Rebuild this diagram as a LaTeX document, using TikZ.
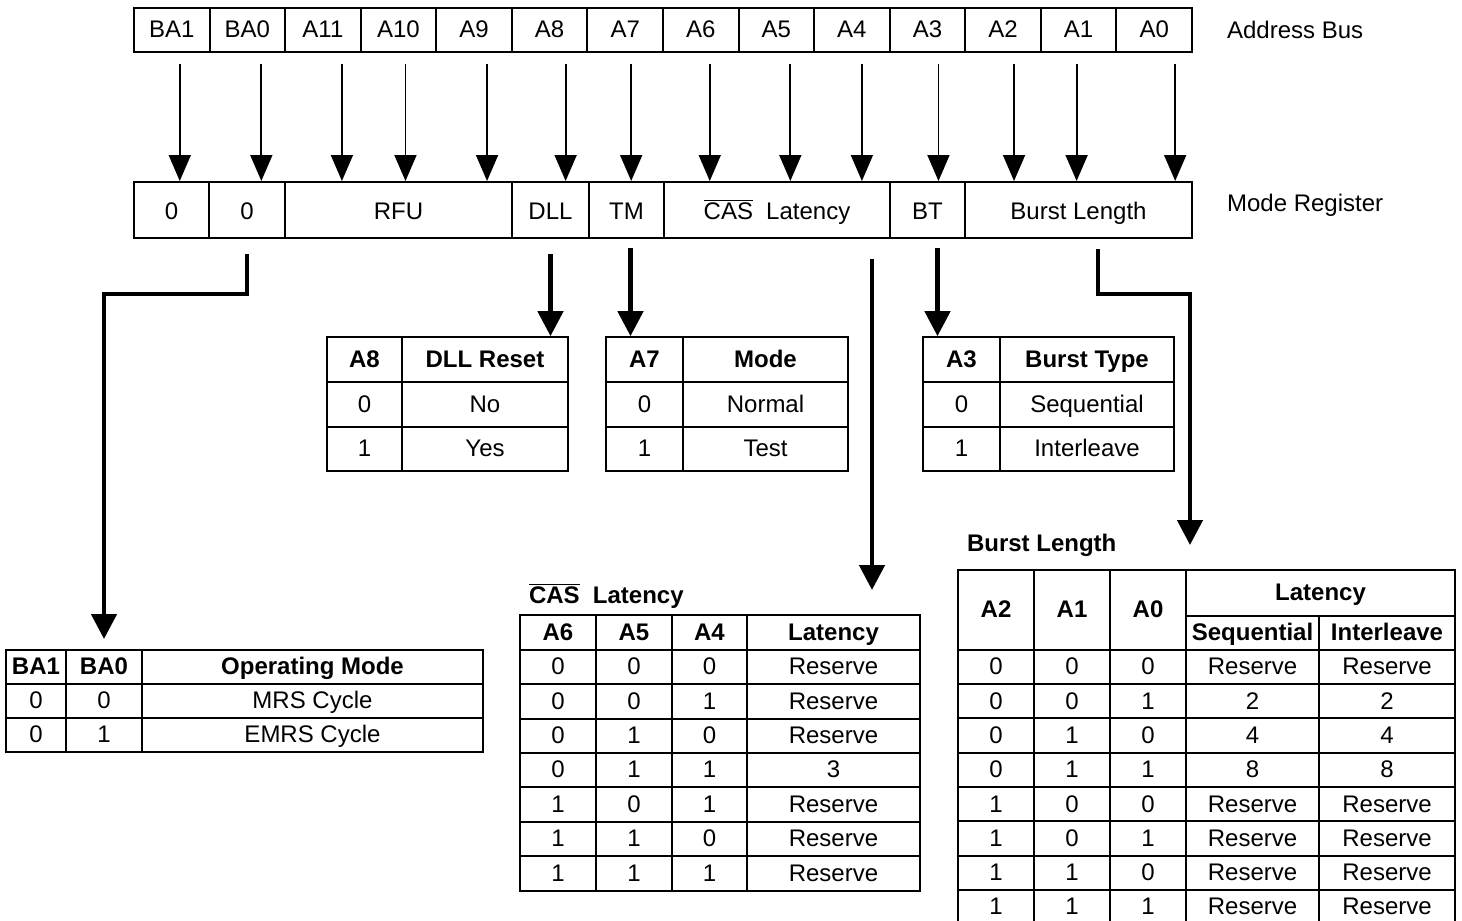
\documentclass[tikz,border=0pt]{standalone}
\usepackage{fontspec}
\setmainfont{Liberation Sans}
\usetikzlibrary{arrows.meta,positioning}

\begin{document}
\begin{tikzpicture}[x=0.5pt, y=-0.5pt,
    cell/.style={draw, line width=1pt, inner sep=0pt, text height=10pt, text depth=2.2pt, font=\fontsize{12}{14}\selectfont},
    hcell/.style={cell, font=\fontsize{12}{14}\selectfont\bfseries},
    regcell/.style={cell, minimum height=28pt, text height=12pt},
    busarrow/.style={-{Triangle[length=13pt,width=11pt]}, line width=0.9pt},
    fieldarrow/.style={-{Triangle[length=12.5pt,width=12.5pt]}, line width=2.3pt},
    tag/.style={anchor=west, font=\fontsize{12}{14}\selectfont}
]
\useasboundingbox (0,0) rectangle (1462,921);

% address bus
\foreach \t [count=\i] in {BA1,BA0,A11,A10,A9,A8,A7,A6,A5,A4,A3,A2,A1,A0}
  \node[cell, minimum width=37.8pt, minimum height=22pt] (ab\i) at ({96.2+75.57*\i}, 30) {\t};
\node[tag] (ablabel) at (1220,30) {Address Bus};

% mode register
\node[regcell, minimum width=37.5pt] (mra) at (171.5,210) {0};
\node[regcell, minimum width=38pt] (mrb) at (247,210) {0};
\node[regcell, minimum width=113.5pt] (rfu) at (398.5,210) {RFU};
\node[regcell, minimum width=38.5pt] (dll) at (550.5,210) {DLL};
\node[regcell, minimum width=37.5pt] (tm) at (626.5,210) {TM};
\node[regcell, minimum width=113pt] (cas) at (777,210) {$\overline{\mbox{CAS}}$\hspace{0.55em}Latency};
\node[regcell, minimum width=37.5pt] (bt) at (927.5,210) {BT};
\node[regcell, minimum width=113.5pt] (bl) at (1078.5,210) {Burst Length};
\node[tag] (mrlabel) at (1220,205) {Mode Register};

\foreach \i/\d in {1/8,2/14,3/19,4/7,5/13,6/16,7/6,8/9,9/14,10/10,11/11,12/11,13/-2,14/21}
  \draw[busarrow] ([xshift=\d*0.5pt, yshift=-5.5pt]ab\i.south) -- ([xshift=\d*0.5pt]ab\i.south |- mra.north);

% DLL reset table
\node[hcell, minimum width=37.5pt, minimum height=22.3pt] (dllh1) at (364.5,359.5) {A8};
\node[hcell, minimum width=83pt, minimum height=22.3pt] (dllh2) at (485,359.5) {DLL Reset};
\foreach \a/\b [count=\r] in {0/No,1/Yes} {
  \node[cell, minimum width=37.5pt, minimum height=22.3pt] (dlla\r) at (364.5, {359.5+44.7*\r}) {\a};
  \node[cell, minimum width=83pt, minimum height=22.3pt] (dllb\r) at (485, {359.5+44.7*\r}) {\b};
}

% test mode table
\node[hcell, minimum width=38.5pt, minimum height=22.3pt] (tmh1) at (644.5,359.5) {A7};
\node[hcell, minimum width=82.5pt, minimum height=22.3pt] (tmh2) at (765.5,359.5) {Mode};
\foreach \a/\b [count=\r] in {0/Normal,1/Test} {
  \node[cell, minimum width=38.5pt, minimum height=22.3pt] (tma\r) at (644.5, {359.5+44.7*\r}) {\a};
  \node[cell, minimum width=82.5pt, minimum height=22.3pt] (tmb\r) at (765.5, {359.5+44.7*\r}) {\b};
}

% burst type table
\node[hcell, minimum width=38.5pt, minimum height=22.3pt] (bth1) at (961.5,359.5) {A3};
\node[hcell, minimum width=87pt, minimum height=22.3pt] (bth2) at (1087,359.5) {Burst Type};
\foreach \a/\b [count=\r] in {0/Sequential,1/Interleave} {
  \node[cell, minimum width=38.5pt, minimum height=22.3pt] (bta\r) at (961.5, {359.5+44.7*\r}) {\a};
  \node[cell, minimum width=87pt, minimum height=22.3pt] (btb\r) at (1087, {359.5+44.7*\r}) {\b};
}

% operating mode table
\node[hcell, minimum width=30pt, minimum height=17pt] (oph1) at (36,667) {BA1};
\node[hcell, minimum width=38pt, minimum height=17pt] (oph2) at (104,667) {BA0};
\node[hcell, minimum width=170.5pt, minimum height=17pt] (oph3) at (312.5,667) {Operating Mode};
\foreach \a/\b/\c [count=\r] in {0/0/MRS Cycle,0/1/EMRS Cycle} {
  \node[cell, minimum width=30pt, minimum height=17pt] (opa\r) at (36, {667+34*\r}) {\a};
  \node[cell, minimum width=38pt, minimum height=17pt] (opb\r) at (104, {667+34*\r}) {\b};
  \node[cell, minimum width=170.5pt, minimum height=17pt] (opc\r) at (312.5, {667+34*\r}) {\c};
}

% CAS latency table
\node[tag, font=\fontsize{12}{14}\selectfont\bfseries] (castitle) at (522,596) {$\overline{\mbox{CAS}}$\hspace{0.55em}Latency};
\node[hcell, minimum width=38pt, minimum height=17.5pt] (cash1) at (558,632.5) {A6};
\node[hcell, minimum width=38pt, minimum height=17.5pt] (cash2) at (634,632.5) {A5};
\node[hcell, minimum width=37.5pt, minimum height=17.5pt] (cash3) at (709.5,632.5) {A4};
\node[hcell, minimum width=86.5pt, minimum height=17.5pt] (cash4) at (833.5,632.5) {Latency};
\foreach \p/\q/\s/\v [count=\r] in {0/0/0/Reserve,0/0/1/Reserve,0/1/0/Reserve,0/1/1/3,1/0/1/Reserve,1/1/0/Reserve,1/1/1/Reserve} {
  \node[cell, minimum width=38pt, minimum height=17.2pt] (casa\r) at (558, {632.5+34.4*\r}) {\p};
  \node[cell, minimum width=38pt, minimum height=17.2pt] (casb\r) at (634, {632.5+34.4*\r}) {\q};
  \node[cell, minimum width=37.5pt, minimum height=17.2pt] (casc\r) at (709.5, {632.5+34.4*\r}) {\s};
  \node[cell, minimum width=86.5pt, minimum height=17.2pt] (casd\r) at (833.5, {632.5+34.4*\r}) {\v};
}

% burst length table
\node[tag, font=\fontsize{12}{14}\selectfont\bfseries] (bltitle) at (960,545) {Burst Length};
\node[hcell, minimum width=38pt, minimum height=40pt] (blh1) at (996,610) {A2};
\node[hcell, minimum width=38pt, minimum height=40pt] (blh2) at (1072,610) {A1};
\node[hcell, minimum width=38pt, minimum height=40pt] (blh3) at (1148,610) {A0};
\node[hcell, minimum width=134.5pt, minimum height=23pt] (blh4) at (1320.5,593) {Latency};
\node[hcell, minimum width=66.5pt, minimum height=17pt] (blseq) at (1252.5,633) {Sequential};
\node[hcell, minimum width=68pt, minimum height=17pt] (blint) at (1387,633) {Interleave};
\foreach \p/\q/\s/\u/\v [count=\r] in {0/0/0/Reserve/Reserve,0/0/1/2/2,0/1/0/4/4,0/1/1/8/8,1/0/0/Reserve/Reserve,1/0/1/Reserve/Reserve,1/1/0/Reserve/Reserve,1/1/1/Reserve/Reserve} {
  \node[cell, minimum width=38pt, minimum height=17.15pt] (bla\r) at (996, {632.7+34.3*\r}) {\p};
  \node[cell, minimum width=38pt, minimum height=17.15pt] (blb\r) at (1072, {632.7+34.3*\r}) {\q};
  \node[cell, minimum width=38pt, minimum height=17.15pt] (blc\r) at (1148, {632.7+34.3*\r}) {\s};
  \node[cell, minimum width=66.5pt, minimum height=17.15pt] (bld\r) at (1252.5, {632.7+34.3*\r}) {\u};
  \node[cell, minimum width=68pt, minimum height=17.15pt] (ble\r) at (1387, {632.7+34.3*\r}) {\v};
}

% field connectors
\coordinate (castip) at (872,590);
\coordinate (bltip) at (1190,545);
\draw[fieldarrow] ([yshift=-7.5pt]mrb.south) -- ++(0,40) -| ([yshift=5pt]oph2.north);
\draw[fieldarrow] ([yshift=-7.5pt]dll.south) -- (dll.south |- dllh2.north);
\draw[fieldarrow] ([xshift=2pt,yshift=-4.5pt]tm.south) -- ([xshift=2pt]tm.south |- tmh1.north);
\draw[fieldarrow] ([xshift=47.5pt,yshift=-10pt]cas.south) -- (castip);
\draw[fieldarrow] ([xshift=5pt,yshift=-4.5pt]bt.south) -- ([xshift=5pt]bt.south |- bth1.north);
\draw[fieldarrow] ([xshift=9.75pt,yshift=-5pt]bl.south) -- ++(0,45) -| (bltip);

\end{tikzpicture}
\end{document}
